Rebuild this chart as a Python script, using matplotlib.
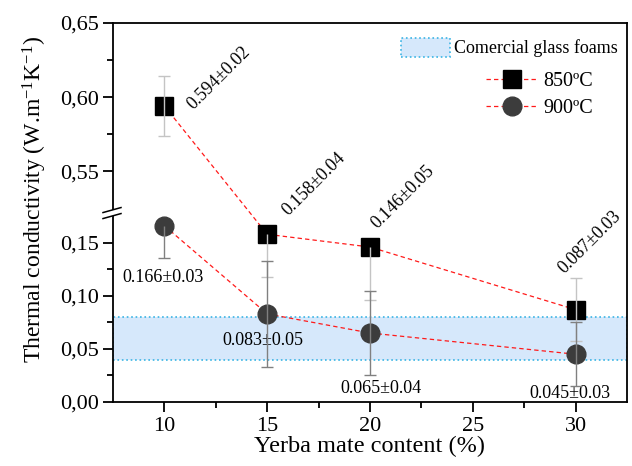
import numpy as np
import matplotlib
matplotlib.use("Agg")
import matplotlib.pyplot as plt
from matplotlib.patches import Patch, Polygon
from matplotlib.lines import Line2D
from matplotlib.ticker import FixedLocator, FuncFormatter

# ---------------- data ----------------
content = np.array([10, 15, 20, 30])
k850 = np.array([0.594, 0.158, 0.146, 0.087])
e850 = np.array([0.02, 0.04, 0.05, 0.03])
k900 = np.array([0.166, 0.083, 0.065, 0.045])
e900 = np.array([0.03, 0.05, 0.04, 0.03])
band = (0.04, 0.08)
lab850 = ["0.594\u00b10.02", "0.158\u00b10.04", "0.146\u00b10.05", "0.087\u00b10.03"]
lab900 = ["0.166\u00b10.03", "0.083\u00b10.05", "0.065\u00b10.04", "0.045\u00b10.03"]
major_y = [0.0, 0.05, 0.10, 0.15, 0.55, 0.60, 0.65]
minor_y = [0.025, 0.075, 0.125, 0.575, 0.625]
major_x = [10, 15, 20, 25, 30]
minor_x = [12.5, 17.5, 22.5, 27.5]

# ---------------- style ----------------
plt.rcParams['font.family'] = ['Liberation Serif', 'DejaVu Serif']
plt.rcParams['mathtext.fontset'] = 'custom'
plt.rcParams['mathtext.rm'] = 'Liberation Serif'
plt.rcParams['mathtext.it'] = 'Liberation Serif:italic'

LOW_TOP = 0.177
HIGH_BOT = 0.5225
K = 1490 / 1067
EPS = 0.002


def fwd(y):
    y = np.asarray(y, dtype=float)
    return np.where(y <= LOW_TOP, y,
                    np.where(y >= HIGH_BOT, LOW_TOP + EPS + (y - HIGH_BOT) * K,
                             LOW_TOP + (y - LOW_TOP) / (HIGH_BOT - LOW_TOP) * EPS))


def inv(t):
    t = np.asarray(t, dtype=float)
    return np.where(t <= LOW_TOP, t,
                    np.where(t >= LOW_TOP + EPS, HIGH_BOT + (t - LOW_TOP - EPS) / K,
                             LOW_TOP + (t - LOW_TOP) / EPS * (HIGH_BOT - LOW_TOP)))


fig = plt.figure(figsize=(6.32, 4.66), dpi=100)
ax = fig.add_axes([113 / 632, 64 / 466, 514 / 632, 379 / 466])
ax.set_yscale('function', functions=(fwd, inv))
ax.set_ylim(0, 0.65)
ax.set_xlim(7.5, 32.5)

# band
ax.axhspan(band[0], band[1], facecolor='#d6e8fb', edgecolor='#3ab4e4',
           linestyle=':', linewidth=1.2, zorder=1)

red = '#ff1a1a'
ax.plot(content, k850, color=red, lw=0.9, ls=(0, (3.5, 2.5)), marker='s', ms=12.5,
        mfc='black', mec='black', zorder=3)
ax.plot(content, k900, color=red, lw=0.9, ls=(0, (3.5, 2.5)), marker='o', ms=13.5,
        mfc='#3c3c3c', mec='#3c3c3c', zorder=3)


def whiskers(x, y, e, color):
    top = y + e
    in_gap = (y <= LOW_TOP) & (top > LOW_TOP)
    top_draw = np.where(in_gap, y, top)
    ax.vlines(x, y - e, top_draw, colors=color, lw=1.0, zorder=4)
    ax.plot(x, y - e, ls='none', marker='_', ms=8, mew=1.0, color=color, zorder=4)
    ax.plot(x[~in_gap], top[~in_gap], ls='none', marker='_', ms=8, mew=1.0,
            color=color, zorder=4)


whiskers(content, k850, e850, '#c4c4c4')
whiskers(content, k900, e900, '#808080')

# annotations
off850 = [(21, -3), (15, 13), (5, 13), (-8, 26)]
for x, y, t, o in zip(content, k850, lab850, off850):
    ax.annotate(t, (x, y), xytext=o, textcoords='offset points', rotation=45,
                rotation_mode='anchor', ha='left', va='baseline', fontsize=13)
off900 = [(-1, -37), (-3, -19), (8, -40), (-4, -28)]
for x, y, t, o in zip(content, k900, lab900, off900):
    ax.annotate(t, (x, y), xytext=o, textcoords='offset points',
                ha='center', va='center', fontsize=13)

# ticks
ax.yaxis.set_major_locator(FixedLocator(major_y))
ax.yaxis.set_minor_locator(FixedLocator(minor_y))
ax.xaxis.set_major_locator(FixedLocator(major_x))
ax.xaxis.set_minor_locator(FixedLocator(minor_x))
ax.yaxis.set_major_formatter(FuncFormatter(lambda v, p: f"{v:.2f}".replace('.', ',')))
ax.xaxis.set_major_formatter(FuncFormatter(lambda v, p: f"{v:g}"))
ax.tick_params(which='major', direction='out', length=7, width=1.3, labelsize=16, pad=3)
ax.tick_params(which='minor', direction='out', length=4, width=1.3)
ax.tick_params(axis='x', which='major', pad=4)
for s in ax.spines.values():
    s.set_linewidth(1.3)

ax.set_xlabel('Yerba mate content (%)', fontsize=17.5, labelpad=0)
ax.set_ylabel(r'Thermal conductivity (W.m$^{\mathregular{-1}}$K$^{\mathregular{-1}}$)',
              fontsize=17, labelpad=6)
ax.yaxis.set_label_coords(-0.124, 0.535)

# break marks on left spine
tb = (LOW_TOP + EPS / 2) / float(fwd(0.65))
fig.canvas.draw()
base = ax.transAxes.transform((0.0, tb))
inv_fig = fig.transFigure.inverted()


def fpt(dx, dy):
    return inv_fig.transform((base[0] + dx, base[1] + dy))


pg = Polygon([fpt(-9, 0.5), fpt(8, 5.5), fpt(8, -0.5), fpt(-9, -5.5)], closed=True,
             facecolor='white', edgecolor='none', transform=fig.transFigure, zorder=10)
fig.add_artist(pg)
for (dx1, dy1, dx2, dy2) in [(-10, 0.5, 8, 5.5), (-10, -5.5, 8, -0.5)]:
    p1, p2 = fpt(dx1, dy1), fpt(dx2, dy2)
    fig.add_artist(Line2D([p1[0], p2[0]], [p1[1], p2[1]], color='black', lw=1.1,
                          transform=fig.transFigure, zorder=11))

# legends
h1 = [Patch(facecolor='#d6e8fb', edgecolor='#3ab4e4', linestyle=':', linewidth=1.2)]
leg1 = ax.legend(h1, ['Comercial glass foams'], loc='upper left',
                 bbox_to_anchor=(401 / 632, 1 - 38 / 466), bbox_transform=fig.transFigure,
                 frameon=False, fontsize=13, borderpad=0, borderaxespad=0,
                 handlelength=2.7, handleheight=1.2, handletextpad=0.25)
ax.add_artist(leg1)
h2 = [Line2D([], [], color=red, lw=0.9, ls=(0, (3.5, 2.5)), marker='s', ms=12.5,
             mfc='black', mec='black'),
      Line2D([], [], color=red, lw=0.9, ls=(0, (3.5, 2.5)), marker='o', ms=13.5,
             mfc='#3c3c3c', mec='#3c3c3c')]
ax.legend(h2, ['850\u00baC', '900\u00baC'], loc='upper left',
          bbox_to_anchor=(486 / 632, 1 - 72 / 466), bbox_transform=fig.transFigure,
          frameon=False, fontsize=14.5, borderpad=0, borderaxespad=0,
          handlelength=2.55, handletextpad=0.3, labelspacing=0.4)

fig.savefig('out.png', dpi=100)
